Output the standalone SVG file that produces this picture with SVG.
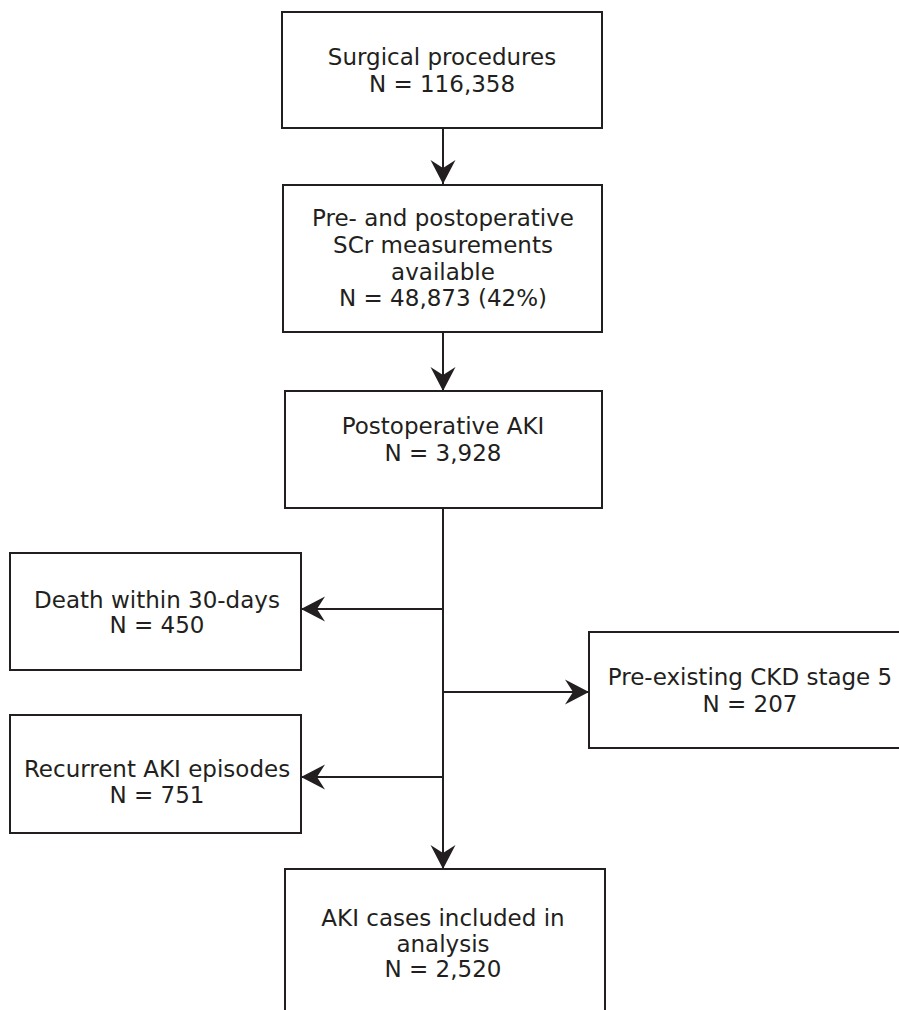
<svg xmlns="http://www.w3.org/2000/svg" width="899" height="1010" viewBox="0 0 899 1010">
<style>
.box{fill:#fff;stroke:#231f20;stroke-width:2}
.t{font-family:"DejaVu Sans",Verdana,sans-serif;font-size:23px;fill:#231f20;text-anchor:middle}
.c{stroke:#231f20;stroke-width:2;fill:none;marker-end:url(#ah)}
</style>
<defs>
<marker id="ah" markerUnits="userSpaceOnUse" viewBox="-26 -14 28 28" refX="0" refY="0" markerWidth="28" markerHeight="28" orient="auto">
<path d="M0,0 L-24,-12.5 L-16,0 L-24,12.5 Z" fill="#231f20"/>
</marker>
</defs>
<rect width="899" height="1010" fill="#fff"/>
<g id="connectors">
<line class="c" x1="443" y1="128" x2="443" y2="184"/>
<line class="c" x1="443" y1="332" x2="443" y2="391"/>
<line class="c" x1="443" y1="508" x2="443" y2="869"/>
<line class="c" x1="443" y1="609" x2="301" y2="609"/>
<line class="c" x1="443" y1="692" x2="589" y2="692"/>
<line class="c" x1="443" y1="777" x2="301" y2="777"/>
</g>
<g id="n1">
<rect class="box" x="282" y="12" width="320" height="116"/>
<text class="t" x="442" y="65">Surgical procedures</text>
<text class="t" x="442" y="92">N = 116,358</text>
</g>
<g id="n2">
<rect class="box" x="283" y="185" width="319" height="147"/>
<text class="t" x="443" y="226">Pre- and postoperative</text>
<text class="t" x="443" y="253">SCr measurements</text>
<text class="t" x="443" y="280">available</text>
<text class="t" x="443" y="306">N = 48,873 (42%)</text>
</g>
<g id="n3">
<rect class="box" x="285" y="391" width="317" height="117"/>
<text class="t" x="443" y="434">Postoperative AKI</text>
<text class="t" x="443" y="461">N = 3,928</text>
</g>
<g id="n4">
<rect class="box" x="10" y="553" width="291" height="117"/>
<text class="t" x="157" y="608">Death within 30-days</text>
<text class="t" x="157" y="633">N = 450</text>
</g>
<g id="n5">
<rect class="box" x="589" y="632" width="323" height="116"/>
<text class="t" x="750" y="685">Pre-existing CKD stage 5</text>
<text class="t" x="750" y="712">N = 207</text>
</g>
<g id="n6">
<rect class="box" x="10" y="715" width="291" height="118"/>
<text class="t" x="157" y="777">Recurrent AKI episodes</text>
<text class="t" x="157" y="803">N = 751</text>
</g>
<g id="n7">
<rect class="box" x="285" y="869" width="320" height="160"/>
<text class="t" x="443" y="926">AKI cases included in</text>
<text class="t" x="443" y="952">analysis</text>
<text class="t" x="443" y="977">N = 2,520</text>
</g>
</svg>
